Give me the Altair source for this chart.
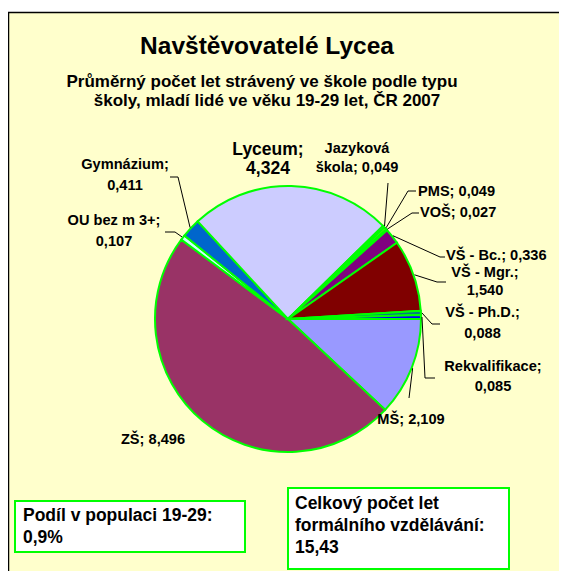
import math
import altair as alt
import pandas as pd

# ---------------- data ----------------
categories = ["MŠ", "ZŠ", "OU bez m 3+", "Gymnázium", "Lyceum", "Jazyková škola",
              "PMS", "VOŠ", "VŠ - Bc.", "VŠ - Mgr.", "VŠ - Ph.D.", "Rekvalifikace"]
values = [2.109, 8.496, 0.107, 0.411, 4.324, 0.049, 0.049, 0.027, 0.336, 1.540, 0.088, 0.085]
colors = ["#9999FF", "#993366", "#CCFFFF", "#0066CC", "#CCCCFF", "#FF00FF",
          "#FFFF00", "#00FFFF", "#800080", "#800000", "#008080", "#0000FF"]

title_text = "Navštěvovatelé Lycea"
subtitle_lines = ["Průměrný počet let strávený ve škole podle typu",
                  "školy, mladí lidé ve věku 19-29 let, ČR 2007"]
box_left_lines = ["Podíl v populaci 19-29:", "0,9%"]
box_right_lines = ["Celkový počet let", "formálního vzdělávání:", "15,43"]

# ---------------- layout ----------------
W, H = 551, 563
OFF = 8
CX, CY, R = 288 - OFF, 319 - OFF, 133
FONT = "Liberation Sans"
GREEN = "#00FF00"
LFS = 14.6

# label layout (page coords): x, y of first line, align, break mode, line height, font size
label_layout = {
    "MŠ": (411, 420, "center", 0, 0, LFS),
    "ZŠ": (153, 440, "center", 0, 0, LFS),
    "OU bez m 3+": (114, 221, "center", 1, 21, LFS),
    "Gymnázium": (125, 165, "center", 1, 21, LFS),
    "Lyceum": (268, 150, "center", 1, 19, 17.5),
    "Jazyková škola": (357, 149, "center", 2, 19, LFS),
    "PMS": (418, 192, "left", 0, 0, LFS),
    "VOŠ": (420, 213, "left", 0, 0, LFS),
    "VŠ - Bc.": (446, 255.5, "left", 0, 0, LFS),
    "VŠ - Mgr.": (485, 272.5, "center", 1, 18.5, LFS),
    "VŠ - Ph.D.": (482.5, 313, "center", 1, 21, LFS),
    "Rekvalifikace": (493, 367, "center", 1, 20, LFS),
}
# leader elbow/end points (page coords); start is on the slice's mid-angle
leader_layout = {
    "MŠ": [(409, 398)],
    "OU bez m 3+": [(175, 232), (165, 232)],
    "Gymnázium": [(178, 177), (170, 177)],
    "Jazyková škola": [(388, 183)],
    "PMS": [(408, 191), (416, 191)],
    "VOŠ": [(412, 213), (419, 213)],
    "VŠ - Bc.": [(440, 257), (445, 257)],
    "VŠ - Mgr.": [(437, 282), (446, 282)],
    "VŠ - Ph.D.": [(432, 324), (440, 324)],
    "Rekvalifikace": [(425, 378), (435, 378)],
}


def fmt(v):
    return f"{v:.3f}".replace(".", ",")


n = len(categories)
total = sum(values)
start_angle = math.pi / 2

pie_df = pd.DataFrame({"cat": categories, "value": values, "idx": list(range(n))})

lab_rows = []
lead_rows = []
cum = 0.0
for i, (c, v) in enumerate(zip(categories, values)):
    mid = start_angle + 2 * math.pi * (cum + v / 2) / total
    cum += v
    x, y, align, mode, lh, fs = label_layout[c]
    if mode == 0:
        lines = [f"{c}; {fmt(v)}"]
    elif mode == 1:
        lines = [f"{c};", fmt(v)]
    else:
        first, rest = c.split(" ", 1)
        lines = [first, f"{rest}; {fmt(v)}"]
    for k, t in enumerate(lines):
        lab_rows.append({"x": x - OFF, "y": y - OFF + k * lh, "text": t, "fs": fs, "align": align})
    if c in leader_layout:
        sx = CX + (R + 1) * math.sin(mid)
        sy = CY - (R + 1) * math.cos(mid)
        pts = [(sx, sy)] + [(px - OFF, py - OFF) for px, py in leader_layout[c]]
        for k, (px, py) in enumerate(pts):
            lead_rows.append({"g": c, "o": k, "x": px, "y": py})

lab_df = pd.DataFrame(lab_rows)
lead_df = pd.DataFrame(lead_rows)

title_df = pd.DataFrame({
    "x": [267 - OFF, 262 - OFF, 267 - OFF],
    "y": [54 - OFF, 87 - OFF, 106 - OFF],
    "text": [title_text] + subtitle_lines,
    "fs": [24.5, 17, 17],
})

box_df = pd.DataFrame({
    "x": [15 - OFF, 288 - OFF],
    "x2": [245 - OFF, 509 - OFF],
    "y": [501 - OFF, 488 - OFF],
    "y2": [552 - OFF, 569 - OFF],
})
box_text_df = pd.DataFrame({
    "x": [23 - OFF] * 2 + [295 - OFF] * 3,
    "y": [521 - OFF, 543 - OFF, 509 - OFF, 531 - OFF, 553 - OFF],
    "text": box_left_lines + box_right_lines,
})

XP = lambda f: alt.X(f, scale=None, axis=None)
YP = lambda f: alt.Y(f, scale=None, axis=None)

bg = alt.Chart(pd.DataFrame({"a": [0]})).mark_rect(
    fill="#FFFFCC", stroke="black", strokeWidth=1.5
).encode(x=alt.value(0.5), x2=alt.value(W + 20), y=alt.value(4.5), y2=alt.value(H + 20))

pie = alt.Chart(pie_df).mark_arc(outerRadius=R, stroke=GREEN, strokeWidth=2).encode(
    theta=alt.Theta("value:Q", stack=True,
                    scale=alt.Scale(range=[start_angle, start_angle + 2 * math.pi])),
    color=alt.Color("cat:N", scale=alt.Scale(domain=categories, range=colors), legend=None),
    order=alt.Order("idx:Q"),
    x=alt.value(CX), y=alt.value(CY),
)

leaders = alt.Chart(lead_df).mark_line(color="black", strokeWidth=1).encode(
    x=XP("x:Q"), y=YP("y:Q"), detail="g:N", order="o:Q"
)


def text_layer(df, align, baseline="middle"):
    return alt.Chart(df).mark_text(
        font=FONT, fontWeight="bold", color="black", align=align, baseline=baseline
    ).encode(x=XP("x:Q"), y=YP("y:Q"), text="text:N",
             size=alt.Size("fs:Q", scale=None, legend=None))


lab_c = text_layer(lab_df[lab_df["align"] == "center"], "center")
lab_l = text_layer(lab_df[lab_df["align"] == "left"], "left")
titles = text_layer(title_df, "center", "alphabetic")

boxes = alt.Chart(box_df).mark_rect(fill="white", stroke=GREEN, strokeWidth=2).encode(
    x=XP("x:Q"), x2="x2:Q", y=YP("y:Q"), y2="y2:Q"
)
box_text = alt.Chart(box_text_df).mark_text(
    font=FONT, fontWeight="bold", color="black", align="left", baseline="alphabetic", fontSize=17.5
).encode(x=XP("x:Q"), y=YP("y:Q"), text="text:N")

chart = alt.layer(bg, pie, leaders, lab_c, lab_l, titles, boxes, box_text).properties(
    width=W, height=H, autosize=alt.AutoSizeParams(type="none"), padding=0
).configure_view(stroke=None)

chart.save("out.html", embed_options={"renderer": "svg", "actions": False})
